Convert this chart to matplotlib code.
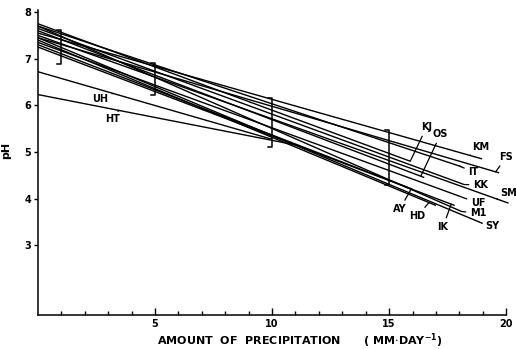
import matplotlib
matplotlib.use("Agg")
import matplotlib.pyplot as plt
import numpy as np

# ---- data ----
sites   = ["KM", "FS", "IT", "KJ", "OS", "KK", "SM", "UF", "AY", "HD", "IK", "M1", "SY", "UH", "HT"]
ph_at_0 = [7.55, 7.45, 7.70, 7.75, 7.60, 7.65, 7.50, 7.35, 7.30, 7.40, 7.25, 7.70, 7.45, 6.72, 6.23]
p_end   = [18.97, 19.7, 18.1, 15.9, 16.5, 18.2, 20.1, 18.0, 16.0, 17.0, 17.8, 18.1, 18.97, 10.0, 11.0]
ph_end  = [4.85, 4.55, 4.68, 4.80, 4.45, 4.30, 3.90, 4.05, 4.20, 3.85, 3.85, 3.72, 3.47, 5.27, 5.15]

bracket_p    = [1, 5, 10, 15]
bracket_low  = [6.89, 6.22, 5.10, 4.28]
bracket_high = [7.62, 6.91, 6.15, 5.47]

x_ticks = [5, 10, 15, 20]
y_ticks = [3, 4, 5, 6, 7, 8]

# label layout: (text x, text y, x of the point on the line the leader touches)
label_layout = {
    "KM": (18.9, 5.10, 18.45),
    "FS": (20.0, 4.89, 19.55),
    "IT": (18.6, 4.57, 18.0),
    "KJ": (16.6, 5.53, 15.9),
    "OS": (17.2, 5.38, 16.35),
    "KK": (18.9, 4.29, 18.2),
    "SM": (20.1, 4.12, 19.6),
    "UF": (18.8, 3.90, 18.0),
    "AY": (15.45, 3.77, 15.95),
    "HD": (16.2, 3.62, 16.7),
    "IK": (17.3, 3.39, 17.65),
    "M1": (18.8, 3.69, 18.1),
    "SY": (19.4, 3.41, 18.97),
    "UH": (2.65, 6.13, 3.2),
    "HT": (3.2, 5.70, 3.45),
}

fig = plt.figure(figsize=(5.16, 3.49), dpi=100)
ax = fig.add_axes([0.0736, 0.0974, 0.9074, 0.8746])

for name, y0, xe, ye in zip(sites, ph_at_0, p_end, ph_end):
    ax.plot([0, xe], [y0, ye], color="black", lw=1.0, clip_on=False, solid_capstyle="butt")

cap = 0.18
for bx, lo, hi in zip(bracket_p, bracket_low, bracket_high):
    ax.plot([bx - cap, bx, bx, bx - cap], [hi, hi, lo, lo], color="black", lw=1.1, clip_on=False)

for name, y0, xe, ye in zip(sites, ph_at_0, p_end, ph_end):
    tx, ty, lx = label_layout[name]
    ly = y0 + (ye - y0) * lx / xe
    ax.annotate(name, xy=(lx, ly), xytext=(tx, ty), ha="center", va="center",
                fontsize=7, fontweight="bold", annotation_clip=False,
                arrowprops=dict(arrowstyle="-", color="black", lw=0.9,
                                shrinkA=1, shrinkB=0))

ax.set_xlim(0, 20)
ax.set_ylim(1.5, 8.05)
ax.spines["top"].set_visible(False)
ax.spines["right"].set_visible(False)
ax.spines["left"].set_linewidth(1.1)
ax.spines["bottom"].set_linewidth(1.1)

ax.set_xticks(x_ticks)
ax.set_xticklabels([str(v) for v in x_ticks], fontsize=7, fontweight="bold")
ax.set_xticks(np.arange(1, 20), minor=True)
ax.tick_params(axis="x", which="major", direction="in", length=5, width=1, pad=3)
ax.tick_params(axis="x", which="minor", direction="in", length=3, width=1)
ax.set_yticks(y_ticks)
ax.set_yticklabels([str(v) for v in y_ticks], fontsize=7, fontweight="bold")
ax.tick_params(axis="y", which="major", direction="out", length=3, width=1, pad=2)

ax.set_xlabel("AMOUNT  OF  PRECIPITATION      ( MM$\\cdot$DAY$^{\\mathbf{-1}}$)",
              fontsize=8, fontweight="bold")
ax.xaxis.set_label_coords(0.56, -0.055)
ax.set_ylabel("pH", fontsize=8, fontweight="bold")
ax.yaxis.set_label_coords(-0.058, 0.54)

fig.savefig("out.png", dpi=100)
